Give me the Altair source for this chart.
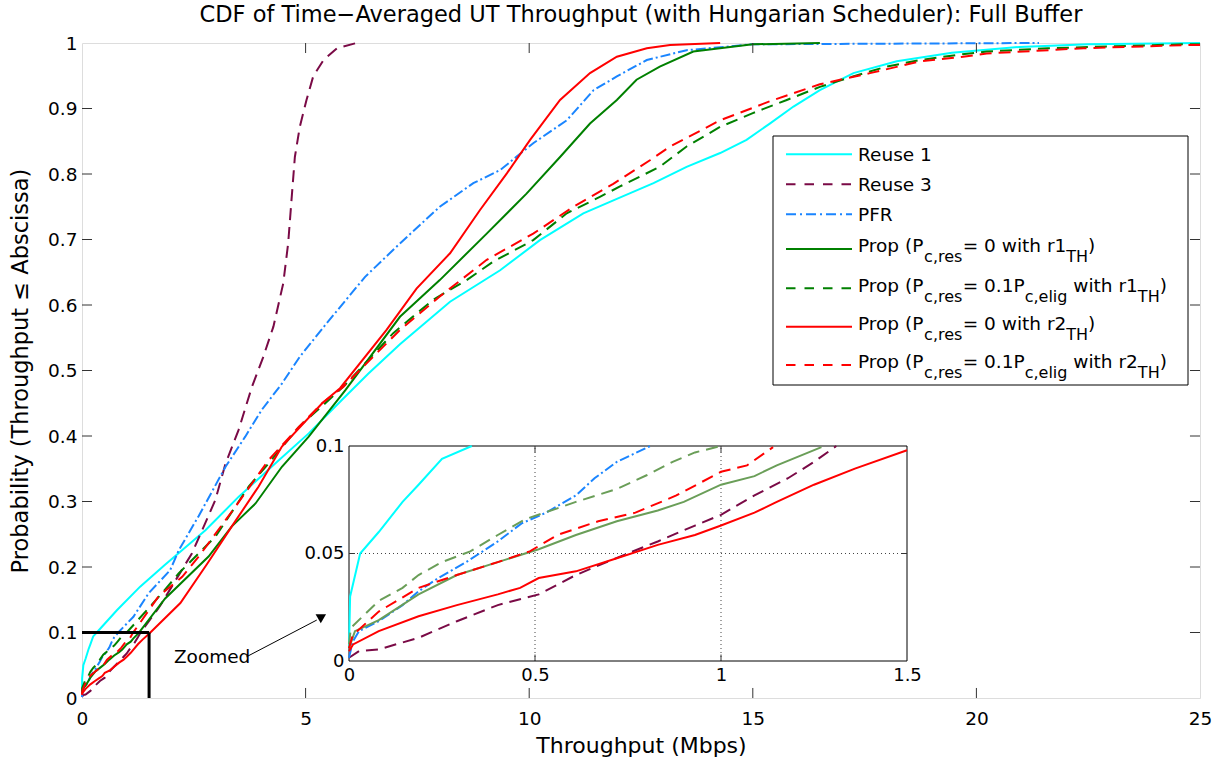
import altair as alt
import pandas as pd

FONT = "DejaVu Sans"

# ---------------- data ----------------
reuse1_x = [0, 0.003, 0.03, 0.08, 0.144, 0.187, 0.25, 0.33, 0.78, 1.30, 1.85, 2.4, 2.76, 3.50, 4.32, 5.07, 5.81, 6.4, 7.11, 8.23, 9.35, 10.24, 11.21, 11.96, 12.78, 13.52, 14.27, 14.86, 15.38, 15.91, 16.5, 17.25, 18.22, 19.45, 20.97, 22.5, 25]
reuse1_y = [0.006, 0.03, 0.05, 0.06, 0.074, 0.082, 0.094, 0.1, 0.134, 0.170, 0.203, 0.235, 0.256, 0.307, 0.358, 0.404, 0.455, 0.495, 0.540, 0.605, 0.653, 0.699, 0.740, 0.762, 0.786, 0.811, 0.832, 0.852, 0.877, 0.903, 0.928, 0.954, 0.972, 0.985, 0.994, 0.998, 1.0]

reuse3_x = [0, 0.027, 0.08, 0.187, 0.29, 0.40, 0.51, 0.61, 0.72, 0.83, 0.93, 1.0, 1.09, 1.18, 1.25, 1.31, 1.74, 2.46, 2.98, 3.21, 3.50, 3.80, 4.05, 4.28, 4.50, 4.61, 4.69, 4.76, 4.87, 5.02, 5.17, 5.40, 5.70, 6.14]
reuse3_y = [0.0015, 0.0046, 0.0054, 0.0108, 0.0185, 0.026, 0.031, 0.040, 0.048, 0.0556, 0.063, 0.068, 0.077, 0.085, 0.0926, 0.1, 0.14, 0.221, 0.302, 0.358, 0.409, 0.475, 0.52, 0.567, 0.633, 0.694, 0.765, 0.826, 0.872, 0.913, 0.949, 0.974, 0.992, 1.0]

pfr_x = [0, 0.01, 0.027, 0.08, 0.144, 0.187, 0.24, 0.315, 0.40, 0.464, 0.53, 0.61, 0.66, 0.72, 0.81, 1.15, 1.49, 1.97, 2.16, 2.61, 3.21, 3.65, 4.02, 4.47, 4.87, 5.47, 6.33, 7.11, 8.0, 8.75, 9.35, 10.09, 10.84, 11.44, 11.96, 12.63, 13.52, 15.0, 18.0, 21.4]
pfr_y = [0.0015, 0.009, 0.0139, 0.0185, 0.026, 0.0324, 0.0386, 0.046, 0.0556, 0.064, 0.069, 0.077, 0.085, 0.0926, 0.1, 0.124, 0.160, 0.195, 0.225, 0.278, 0.353, 0.399, 0.440, 0.480, 0.521, 0.572, 0.643, 0.694, 0.750, 0.786, 0.806, 0.847, 0.882, 0.928, 0.949, 0.974, 0.989, 0.998, 0.999, 1.0]

prop_r1_0_x = [0, 0.016, 0.08, 0.187, 0.29, 0.40, 0.51, 0.61, 0.72, 0.83, 0.9, 1.0, 1.09, 1.15, 1.27, 1.86, 2.83, 3.35, 3.88, 4.47, 5.07, 5.89, 7.11, 8.0, 9.05, 9.94, 10.69, 11.36, 11.96, 12.40, 12.92, 13.67, 15.0, 16.5]
prop_r1_0_y = [0.006, 0.0139, 0.019, 0.031, 0.040, 0.046, 0.052, 0.0586, 0.065, 0.070, 0.074, 0.082, 0.086, 0.091, 0.0995, 0.152, 0.216, 0.262, 0.297, 0.353, 0.399, 0.470, 0.582, 0.638, 0.709, 0.770, 0.826, 0.877, 0.913, 0.944, 0.964, 0.987, 0.998, 1.0]

prop_r1_01_x = [0, 0.005, 0.08, 0.144, 0.187, 0.25, 0.326, 0.40, 0.475, 0.56, 0.61, 0.72, 0.80, 0.87, 0.93, 1.0, 1.79, 2.16, 2.61, 2.98, 3.73, 4.17, 4.85, 5.44, 5.84, 6.96, 7.85, 8.60, 9.19, 10.09, 10.84, 11.58, 12.03, 12.92, 13.52, 14.27, 15.0, 15.76, 16.5, 17.24, 17.99, 18.74, 19.6, 20.23, 21.6, 24.6, 25]
prop_r1_01_y = [0.0077, 0.0154, 0.028, 0.034, 0.040, 0.046, 0.051, 0.0586, 0.066, 0.071, 0.074, 0.080, 0.0864, 0.0926, 0.097, 0.1, 0.160, 0.190, 0.221, 0.246, 0.323, 0.358, 0.414, 0.450, 0.475, 0.557, 0.608, 0.638, 0.666, 0.699, 0.740, 0.765, 0.781, 0.811, 0.842, 0.872, 0.893, 0.913, 0.933, 0.949, 0.964, 0.974, 0.982, 0.987, 0.992, 0.998, 0.998]

prop_r2_0_x = [0, 0.011, 0.08, 0.187, 0.29, 0.40, 0.46, 0.51, 0.61, 0.72, 0.83, 0.93, 1.0, 1.09, 1.15, 1.25, 1.36, 1.5, 2.2, 2.8, 3.35, 3.95, 4.47, 5.37, 5.77, 6.81, 7.48, 8.23, 8.9, 9.50, 10.02, 10.69, 11.36, 11.96, 12.63, 13.15, 14.27]
prop_r2_0_y = [0.0046, 0.0077, 0.0139, 0.0208, 0.026, 0.031, 0.034, 0.0386, 0.0417, 0.0478, 0.054, 0.0586, 0.063, 0.069, 0.074, 0.082, 0.0895, 0.098, 0.145, 0.205, 0.262, 0.323, 0.384, 0.450, 0.473, 0.562, 0.625, 0.679, 0.745, 0.801, 0.852, 0.913, 0.954, 0.979, 0.992, 0.997, 1.0]

prop_r2_01_x = [0, 0.01, 0.08, 0.187, 0.29, 0.40, 0.486, 0.56, 0.67, 0.77, 0.88, 1.0, 1.07, 1.14, 1.71, 2.24, 2.61, 3.43, 4.17, 4.85, 5.37, 5.84, 7.11, 8.0, 9.05, 10.09, 10.99, 11.88, 12.70, 13.15, 14.27, 15.38, 16.5, 17.62, 18.74, 19.7, 20.23, 22.4, 24.8, 25]
prop_r2_01_y = [0.006, 0.012, 0.023, 0.034, 0.040, 0.046, 0.051, 0.0586, 0.065, 0.069, 0.077, 0.088, 0.091, 0.0995, 0.155, 0.185, 0.216, 0.292, 0.363, 0.414, 0.450, 0.475, 0.562, 0.613, 0.669, 0.709, 0.750, 0.785, 0.821, 0.842, 0.882, 0.911, 0.937, 0.954, 0.972, 0.979, 0.984, 0.992, 0.997, 0.997]

SERIES_X = [reuse1_x, reuse3_x, pfr_x, prop_r1_0_x, prop_r1_01_x, prop_r2_0_x, prop_r2_01_x]
SERIES_Y = [reuse1_y, reuse3_y, pfr_y, prop_r1_0_y, prop_r1_01_y, prop_r2_0_y, prop_r2_01_y]
COLORS = ["#00FFFF", "#7A0A46", "#1A85FF", "#008000", "#008000", "#FF0000", "#FF0000"]
INSET_COLORS = ["#00FFFF", "#7A0A46", "#1A85FF", "#6A9E58", "#6A9E58", "#FF0000", "#FF0000"]
DASHES = [None, [12, 7], [10, 3, 2, 3], None, [12, 7], None, [12, 7]]
LEGEND_DASHES = [None, [9.5, 9], [10, 4, 2, 4], None, [9.5, 9], None, [9.5, 9]]

LEGEND_ROWS = [
    [("Reuse 1", False)],
    [("Reuse 3", False)],
    [("PFR", False)],
    [("Prop (P", False), ("c,res", True), ("= 0 with r1", False), ("TH", True), (")", False)],
    [("Prop (P", False), ("c,res", True), ("= 0.1P", False), ("c,elig", True), (" with r1", False), ("TH", True), (")", False)],
    [("Prop (P", False), ("c,res", True), ("= 0 with r2", False), ("TH", True), (")", False)],
    [("Prop (P", False), ("c,res", True), ("= 0.1P", False), ("c,elig", True), (" with r2", False), ("TH", True), (")", False)],
]

X_TICKS = [0, 5, 10, 15, 20, 25]
Y_TICKS = [0, 0.1, 0.2, 0.3, 0.4, 0.5, 0.6, 0.7, 0.8, 0.9, 1]
INSET_X_TICKS = [0, 0.5, 1, 1.5]
INSET_Y_TICKS = [0, 0.05, 0.1]

TITLE = "CDF of Time\u2212Averaged UT Throughput (with Hungarian Scheduler): Full Buffer"
X_TITLE = "Throughput (Mbps)"
Y_TITLE = "Probability (Throughput \u2264 Abscissa)"

# ---------------- layout ----------------
W, H = 1118, 655
PAD = {"left": 82, "top": 43, "right": 27, "bottom": 65}

SX = alt.Scale(domain=[0, 25], nice=False, zero=False)
SY = alt.Scale(domain=[0, 1], nice=False, zero=False)
SXI = alt.Scale(domain=[0, 1.5], range=[267, 825], nice=False, zero=False)
SYI = alt.Scale(domain=[0, 0.1], range=[618, 403], nice=False, zero=False)

x_axis = alt.Axis(values=X_TICKS, format="~g", tickSize=0, labelPadding=11, labelFont=FONT,
                  labelFontSize=18.5, labelColor="black", labelFlush=False, labelOverlap=False,
                  domain=False, grid=False, title=X_TITLE, titleFont=FONT, titleFontSize=22,
                  titleFontWeight="normal", titleColor="black", titleY=54, titleBaseline="alphabetic")
y_axis = alt.Axis(values=Y_TICKS, format="~g", tickSize=0, labelPadding=5, labelFont=FONT,
                  labelFontSize=18.5, labelColor="black", labelFlush=False, labelOverlap=False,
                  domain=False, grid=False, title=Y_TITLE, titleFont=FONT, titleFontSize=22.5,
                  titleFontWeight="normal", titleColor="black", titleAngle=270, titleX=-55,
                  titleY=327.5, titleAlign="center", titleBaseline="alphabetic")
xi_axis = alt.Axis(orient="bottom", offset=-37, values=INSET_X_TICKS, format="~g", tickSize=0,
                   labelPadding=5, labelFont=FONT, labelFontSize=18, labelColor="black",
                   labelFlush=False, labelOverlap=False, domain=False, grid=False, title="")
yi_axis = alt.Axis(orient="left", offset=-267, values=INSET_Y_TICKS, format="~g", tickSize=0,
                   labelPadding=5, labelFont=FONT, labelFontSize=18, labelColor="black",
                   labelFlush=False, labelOverlap=False, domain=False, grid=False, title="")


def xm(f):
    return alt.X(f"{f}:Q", scale=SX, axis=x_axis)


def ym(f):
    return alt.Y(f"{f}:Q", scale=SY, axis=y_axis)


def xi(f):
    return alt.X(f"{f}:Q", scale=SXI, axis=xi_axis)


def yi(f):
    return alt.Y(f"{f}:Q", scale=SYI, axis=yi_axis)


def line_props(color, dash):
    p = dict(color=color, strokeWidth=2)
    if dash:
        p["strokeDash"] = dash
    return p


main_layers = []
inset_layers = []

# inset frame (white box) + dotted grid
inset_layers.append(
    alt.Chart(pd.DataFrame({"x": [0], "x2": [1.5], "y": [0], "y2": [0.1]}))
    .mark_rect(fill="white", stroke="black", strokeWidth=1)
    .encode(x=xi("x"), x2="x2:Q", y=yi("y"), y2="y2:Q")
)
inset_layers.append(
    alt.Chart(pd.DataFrame({"x": [0.5, 1.0], "y": [0, 0], "y2": [0.1, 0.1]}))
    .mark_rule(color="#444444", strokeDash=[1, 3], strokeWidth=1)
    .encode(x=xi("x"), y=yi("y"), y2="y2:Q")
)
inset_layers.append(
    alt.Chart(pd.DataFrame({"y": [0.05], "x": [0], "x2": [1.5]}))
    .mark_rule(color="#444444", strokeDash=[1, 3], strokeWidth=1)
    .encode(y=yi("y"), x=xi("x"), x2="x2:Q")
)

for i in range(len(SERIES_X)):
    df = pd.DataFrame({"x": SERIES_X[i], "y": SERIES_Y[i]})
    df["i"] = range(len(df))
    main_layers.append(
        alt.Chart(df).mark_line(**line_props(COLORS[i], DASHES[i]))
        .encode(x=xm("x"), y=ym("y"), order="i:Q")
    )
    dfi = df[(df["y"] <= 0.1 + 1e-9) & (df["x"] <= 1.5)]
    inset_layers.append(
        alt.Chart(dfi).mark_line(**line_props(INSET_COLORS[i], DASHES[i]))
        .encode(x=xi("x"), y=yi("y"), order="i:Q")
    )

# inset inward ticks
inset_layers.append(
    alt.Chart(pd.DataFrame({"x": [0.5, 1.0, 0.5, 1.0], "y": [0, 0, 0.1, 0.1], "y2": [0.003, 0.003, 0.097, 0.097]}))
    .mark_rule(color="#333333", strokeWidth=1)
    .encode(x=xi("x"), y=yi("y"), y2="y2:Q")
)
inset_layers.append(
    alt.Chart(pd.DataFrame({"y": [0.05, 0.05], "x": [0, 1.5], "x2": [0.016, 1.484]}))
    .mark_rule(color="#333333", strokeWidth=1)
    .encode(y=yi("y"), x=xi("x"), x2="x2:Q")
)

# main inward ticks
main_layers.append(
    alt.Chart(pd.DataFrame({"x": [5, 10, 15, 20] * 2, "y": [0] * 4 + [1] * 4, "y2": [0.0153] * 4 + [0.9847] * 4}))
    .mark_rule(color="#333333", strokeWidth=1)
    .encode(x=xm("x"), y=ym("y"), y2="y2:Q")
)
main_layers.append(
    alt.Chart(pd.DataFrame({"y": Y_TICKS[1:-1] * 2, "x": [0] * 9 + [25] * 9, "x2": [0.224] * 9 + [24.776] * 9}))
    .mark_rule(color="#333333", strokeWidth=1)
    .encode(y=ym("y"), x=xm("x"), x2="x2:Q")
)

# zoom rectangle (0..1.5 Mbps, 0..0.1)
main_layers.append(
    alt.Chart(pd.DataFrame({"x": [0, 1.5], "x2": [1.5, 1.5], "y": [0.1, 0.0], "y2": [0.1, 0.1]}))
    .mark_rule(color="black", strokeWidth=3)
    .encode(x=xm("x"), x2="x2:Q", y=ym("y"), y2="y2:Q")
)

# "Zoomed" annotation with arrow
main_layers.append(
    alt.Chart(pd.DataFrame({"x": [2.91], "y": [0.0626], "t": ["Zoomed"]}))
    .mark_text(font=FONT, fontSize=18.5, color="black", align="center", baseline="middle")
    .encode(x=xm("x"), y=ym("y"), text="t:N")
)
main_layers.append(
    alt.Chart(pd.DataFrame({"x": [3.68], "x2": [5.25], "y": [0.063], "y2": [0.119]}))
    .mark_rule(color="black", strokeWidth=1)
    .encode(x=xm("x"), x2="x2:Q", y=ym("y"), y2="y2:Q")
)
main_layers.append(
    alt.Chart(pd.DataFrame({"x": [5.34], "y": [0.121]}))
    .mark_point(shape="triangle-down", filled=True, size=110, color="black", opacity=1)
    .encode(x=xm("x"), y=ym("y"))
)

# chart title (as a text placed above the plot box)
main_layers.append(
    alt.Chart(pd.DataFrame({"t": [TITLE]}))
    .mark_text(font=FONT, fontSize=22.5, color="black", align="center", baseline="alphabetic")
    .encode(x=alt.value(W / 2), y=alt.value(-21), text="t:N")
)

# ---------------- legend (drawn by hand, subscripts need separate texts) ----------------
DV = {' ': 0.318, '(': 0.390, ')': 0.390, ',': 0.318, '.': 0.318, '0': 0.636, '1': 0.636, '2': 0.636,
      '3': 0.636, '=': 0.838, 'H': 0.752, 'P': 0.603, 'T': 0.611, 'R': 0.695, 'F': 0.575,
      'c': 0.550, 'e': 0.615, 'g': 0.635, 'h': 0.634, 'i': 0.278, 'l': 0.278, 'o': 0.612,
      'p': 0.635, 'r': 0.411, 's': 0.521, 't': 0.392, 'u': 0.634, 'w': 0.818}


def text_w(s, size):
    return sum(DV.get(ch, 0.6) for ch in s) * size


LEG_BOX = dict(x=691, x2=1106, y=93, y2=342)
LEG_LINE_Y = [111.3, 141.3, 171.3, 206, 245.3, 283.7, 322]
MAIN_FS, SUB_FS = 18.5, 16

main_layers.append(
    alt.Chart(pd.DataFrame({"a": [0]}))
    .mark_rect(fill="white", stroke="black", strokeWidth=1)
    .encode(x=alt.value(LEG_BOX["x"]), x2=alt.value(LEG_BOX["x2"]),
            y=alt.value(LEG_BOX["y"]), y2=alt.value(LEG_BOX["y2"]))
)
for r, row in enumerate(LEGEND_ROWS):
    ly = LEG_LINE_Y[r]
    main_layers.append(
        alt.Chart(pd.DataFrame({"a": [0]}))
        .mark_rule(**line_props(COLORS[r], LEGEND_DASHES[r]))
        .encode(x=alt.value(704), x2=alt.value(770), y=alt.value(ly))
    )
    simple = len(row) == 1
    base = ly + (6.7 if simple else 3.3)
    cx = 776
    for txt, sub in row:
        fs = SUB_FS if sub else MAIN_FS
        stripped = txt.lstrip()
        lead = len(txt) - len(stripped)
        main_layers.append(
            alt.Chart(pd.DataFrame({"t": [stripped]}))
            .mark_text(font=FONT, fontSize=fs, color="black", align="left", baseline="alphabetic")
            .encode(x=alt.value(cx + text_w(" ", fs) * lead), y=alt.value(base + (10 if sub else 0)), text="t:N")
        )
        cx += text_w(txt, fs)

main = alt.layer(*main_layers)
inset = alt.layer(*inset_layers)

chart = (
    alt.layer(main, inset)
    .resolve_scale(x="independent", y="independent")
    .properties(
        width=W, height=H,
        padding=PAD,
        autosize=alt.AutoSizeParams(type="none"),
    )
    .configure_view(stroke="black", strokeWidth=1)
    .configure(background="white")
)

chart.save("out.html", embed_options={"renderer": "svg", "actions": False})
